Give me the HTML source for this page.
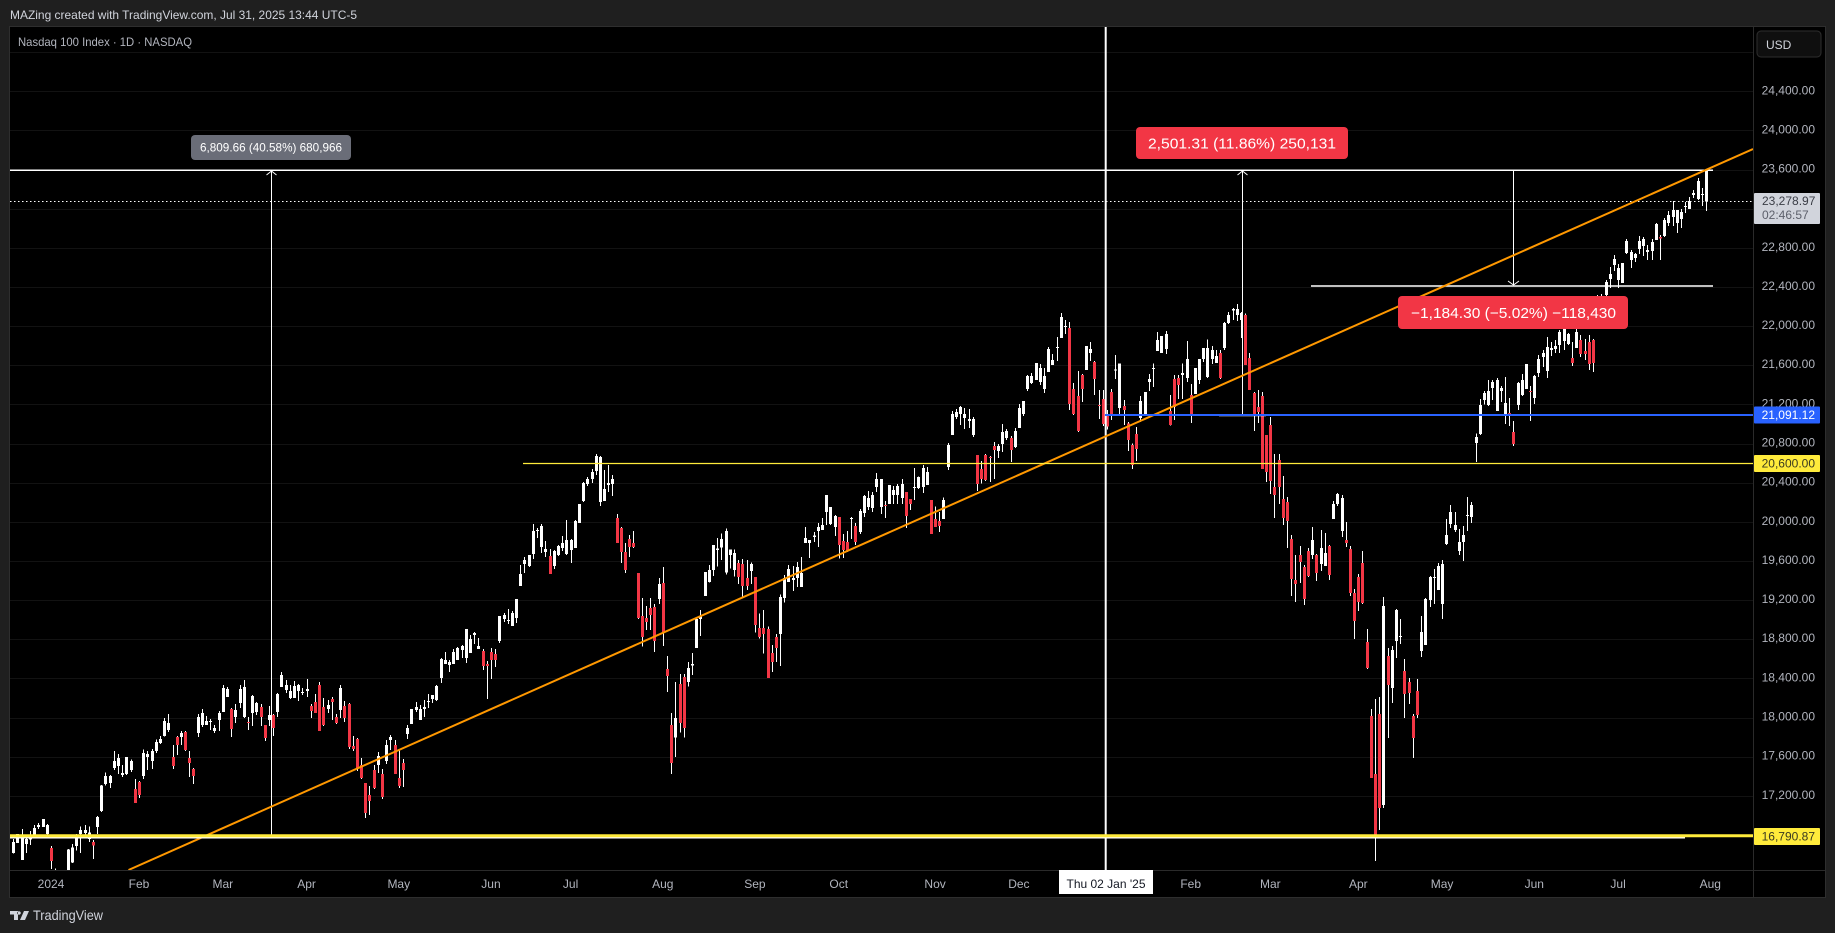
<!DOCTYPE html>
<html lang="en">
<head>
<meta charset="utf-8">
<title>Nasdaq 100 Index chart</title>
<style>
html,body{margin:0;padding:0;background:#1f1f1f;width:1835px;height:933px;overflow:hidden}
svg{display:block}
text{font-family:"Liberation Sans",Arial,sans-serif}
</style>
</head>
<body>
<svg id="chart" width="1835" height="933" viewBox="0 0 1835 933" xmlns="http://www.w3.org/2000/svg">
  <defs><clipPath id="pane-clip"><rect x="10" y="27" width="1743" height="843"/></clipPath></defs>
  <rect x="0" y="0" width="1835" height="933" fill="#1f1f1f"/>
  <text x="10" y="19" font-size="12" fill="#d1d4dc" textLength="347" lengthAdjust="spacingAndGlyphs">MAZing created with TradingView.com, Jul 31, 2025 13:44 UTC-5</text>
  <rect x="9.5" y="26.5" width="1816" height="871" fill="#000" stroke="#2e2e2e"/>
  <g id="grid"></g>
  <line x1="1753.5" y1="27" x2="1753.5" y2="897" stroke="#2a2a2a"/>
  <line x1="10" y1="870.5" x2="1825" y2="870.5" stroke="#2a2a2a"/>
  <text x="18" y="46" font-size="12" fill="#b2b5be" textLength="174" lengthAdjust="spacingAndGlyphs">Nasdaq 100 Index · 1D · NASDAQ</text>
  <g id="price-ticks"></g>
  <g id="time-ticks"></g>
  <g id="candles" clip-path="url(#pane-clip)"></g>

  <g clip-path="url(#pane-clip)">
    <line x1="10" y1="201.5" x2="1753" y2="201.5" stroke="#fff" stroke-width="1" stroke-dasharray="1.5 2.5"/>
    <line x1="10" y1="170.3" x2="1713" y2="170.3" stroke="#fff" stroke-width="1.5"/>
    <line x1="1311" y1="286" x2="1713" y2="286" stroke="#fff" stroke-width="1.5"/>
    <line x1="271.5" y1="171" x2="271.5" y2="836" stroke="#fff" stroke-width="1"/>
    <polyline points="266.5,175 271.5,171 276.5,175" fill="none" stroke="#fff" stroke-width="1"/>
    <line x1="1219" y1="415.5" x2="1266" y2="415.5" stroke="#fff" stroke-width="1.5"/>
    <line x1="1242.5" y1="171" x2="1242.5" y2="415" stroke="#fff" stroke-width="1"/>
    <polyline points="1237.5,175 1242.5,171 1247.5,175" fill="none" stroke="#fff" stroke-width="1"/>
    <line x1="1513.5" y1="171" x2="1513.5" y2="285" stroke="#fff" stroke-width="1"/>
    <polyline points="1508,281 1513.5,285 1519,281" fill="none" stroke="#fff" stroke-width="1"/>
    <line x1="1105.7" y1="27" x2="1105.7" y2="870" stroke="#fff" stroke-width="2"/>
    <line x1="128.5" y1="870" x2="1753" y2="149" stroke="#ff9800" stroke-width="2"/>
    <line x1="523" y1="463.5" x2="1753" y2="463.5" stroke="#ffeb3b" stroke-width="1.3"/>
    <line x1="1105" y1="415" x2="1753" y2="415" stroke="#2962ff" stroke-width="2"/>
    <line x1="10" y1="837.6" x2="1685" y2="837.6" stroke="#fff" stroke-width="1.8"/>
    <line x1="10" y1="835.8" x2="1753" y2="835.8" stroke="#ffeb3b" stroke-width="3"/>
  </g>

  <g>
    <rect x="191" y="135" width="160" height="25" rx="4" fill="#6a6d78"/>
    <text x="200" y="151.5" font-size="12" fill="#fff" textLength="142" lengthAdjust="spacingAndGlyphs">6,809.66 (40.58%) 680,966</text>
  </g>
  <g>
    <rect x="1136" y="127" width="212" height="32" rx="4" fill="#f23645"/>
    <text x="1148" y="148.5" font-size="15" fill="#fff" textLength="188" lengthAdjust="spacingAndGlyphs">2,501.31 (11.86%) 250,131</text>
  </g>
  <g>
    <rect x="1398" y="296" width="230" height="33" rx="4" fill="#f23645"/>
    <text x="1411" y="318" font-size="15" fill="#fff" textLength="205" lengthAdjust="spacingAndGlyphs">−1,184.30 (−5.02%) −118,430</text>
  </g>

  <g>
    <rect x="1757" y="31" width="64" height="26" rx="4" fill="#0f0f0f" stroke="#2e2e2e"/>
    <text x="1766" y="49" font-size="12" fill="#d1d4dc">USD</text>
  </g>
  <g>
    <rect x="1754" y="193" width="66" height="31" rx="1" fill="#d1d4dc"/>
    <text x="1762" y="205" font-size="12" fill="#3a3d46">23,278.97</text>
    <text x="1762" y="219" font-size="12" fill="#5d606b">02:46:57</text>
  </g>
  <g>
    <rect x="1754" y="406.5" width="66" height="17" rx="1" fill="#2962ff"/>
    <text x="1815" y="419" text-anchor="end" font-size="12" fill="#fff">21,091.12</text>
  </g>
  <g>
    <rect x="1754" y="455" width="66" height="17" rx="1" fill="#ffeb3b"/>
    <text x="1815" y="467.5" text-anchor="end" font-size="12" fill="#3a3a20">20,600.00</text>
  </g>
  <g>
    <rect x="1754" y="828" width="66" height="17" rx="1" fill="#ffeb3b"/>
    <text x="1815" y="840.5" text-anchor="end" font-size="12" fill="#3a3a20">16,790.87</text>
  </g>
  <g>
    <rect x="1059" y="870" width="94" height="24" fill="#fff"/>
    <text x="1106" y="888" text-anchor="middle" font-size="12" fill="#131722">Thu 02 Jan '25</text>
  </g>
  <g>
    <path d="M10 911h8v9h-4v-5.5h-4zM19 911.2a1.8 1.8 0 1 0 .01 0zM24 911h5l-4 9h-5z" fill="#d1d4dc"/>
    <text x="33" y="920" font-size="14" fill="#d1d4dc" textLength="70" lengthAdjust="spacingAndGlyphs">TradingView</text>
  </g>
</svg>
<script>
const highs = [
16763,16817,16865,16787,16845,16906,16926,16967,16916,16691,
16463,16380,16400,16661,16712,16817,16892,16906,16892,16753,
16998,17315,17444,17420,17662,17632,17519,17601,17577,17376,
17356,17679,17662,17683,17782,17816,18000,18040,17724,17816,
17867,17867,17662,17489,18040,18092,18020,17989,17928,18071,
18337,18316,18102,18143,18337,18388,18010,18235,18163,18143,
17928,18122,18041,18255,18470,18388,18337,18378,18347,18306,
18398,18143,18245,18368,18204,18184,18214,18041,18337,18174,
18153,17816,17795,17591,17335,17305,17519,17652,17478,17775,
17826,17775,17673,17581,17928,18092,18163,18133,18184,18245,
18235,18337,18613,18674,18593,18705,18725,18746,18909,18848,
18879,18817,18705,18582,18715,18705,19042,19073,19114,19093,
19216,19563,19645,19666,19982,19942,19982,19809,19727,19717,
19768,19860,20023,19829,20023,20187,20412,20463,20545,20698,
20677,20534,20585,20483,20085,19952,19788,19870,19911,19482,
19226,19144,19226,19165,19431,19543,18633,18050,18368,18450,
18450,18572,18664,19018,19104,19492,19564,19768,19840,19887,
19938,19724,19724,19615,19625,19615,19587,19441,19070,19104,
18933,18746,18858,19264,19461,19564,19553,19594,19645,19952,
19819,19901,19993,20044,20279,20156,20075,20054,19880,19911,
20054,19993,20136,20279,20320,20310,20504,20443,20218,20381,
20371,20391,20443,20310,20238,20555,20466,20586,20565,20228,
20160,20105,20255,20810,21137,21158,21189,21168,21158,21076,
20688,20627,20698,20678,20821,20800,21005,20953,20882,20964,
21209,21240,21505,21526,21628,21618,21577,21792,21720,21894,
22139,22068,22047,21424,21546,21516,21802,21843,21649,21352,
21352,21150,21362,21709,21624,21249,21025,20807,20974,21290,
21331,21515,21624,21945,21904,21955,21301,21505,21505,21624,
21853,21413,21577,21669,21781,21870,21801,21761,21761,22047,
22149,22190,22231,22149,22135,21730,21331,21352,21331,20892,
21076,20698,20698,20473,20258,19870,19665,19757,19563,19737,
19952,19676,19921,19890,19768,20217,20299,20279,20003,19757,
19318,19471,19706,18909,18091,18194,18214,19236,18715,18735,
19113,19011,18602,18408,18040,18398,19042,19226,19451,19522,
19584,19614,20033,20176,20105,19931,19962,20258,20207,20909,
21260,21342,21454,21454,21475,21393,21485,21270,21035,21434,
21516,21618,21393,21505,21710,21761,21894,21843,21863,21965,
21976,21935,21843,21976,21914,21873,21914,21873,22323,22333,
22476,22609,22732,22640,22650,22896,22783,22752,22926,22916,
22834,22896,23059,22936,23110,23182,23284,23192,23202,23274,
23325,23396,23519,23417,23594];
const lows = [
16616,16722,16548,16620,16702,16787,16868,16886,16766,16456,
16310,16150,16240,16280,16518,16647,16620,16800,16732,16558,
16814,17039,17311,17284,17468,17427,17397,17417,17448,17131,
17182,17376,17468,17478,17642,17734,17809,17857,17478,17621,
17724,17662,17397,17325,17805,17908,17928,17877,17846,17867,
18061,18214,17805,17948,18102,18000,17877,17918,18030,17918,
17765,17918,17816,18010,18317,18255,18194,18204,18174,18235,
18214,18000,18051,17867,17918,18051,17979,17938,18000,17959,
17683,17662,17458,17376,16978,17008,17274,17438,17172,17530,
17673,17427,17284,17295,17785,17938,18061,17979,18010,18102,
18153,18174,18357,18552,18470,18552,18593,18613,18562,18664,
18756,18705,18490,18194,18398,18521,18766,18981,18960,18940,
18971,19349,19482,19543,19625,19839,19686,19645,19471,19522,
19655,19706,19666,19584,19737,19993,20207,20371,20401,20483,
20166,20218,20310,20269,19788,19584,19482,19645,19737,19011,
18729,18899,18899,18674,19165,18736,18265,17430,17600,17850,
17800,18320,18439,18715,18838,19247,19383,19451,19546,19615,
19465,19529,19444,19369,19233,19308,19369,18872,18814,18661,
18409,18470,18572,18531,19179,19390,19298,19339,19339,19788,
19635,19799,19748,19921,19972,19972,19860,19628,19635,19696,
19829,19768,19880,20054,20126,20105,20310,20085,20044,20187,
20187,20187,20187,19942,20126,20228,20340,20299,20381,19880,
19952,19901,20034,20535,20892,21056,20994,20953,20964,20872,
20320,20398,20422,20412,20443,20657,20718,20841,20616,20759,
20964,21086,21342,21413,21454,21403,21321,21536,21608,21649,
21884,21924,21148,21097,20923,21229,21557,21649,21301,21056,
20984,20950,21045,21464,21106,20994,20728,20544,20626,21025,
21086,21341,21382,21750,21730,21720,20987,21045,21260,21260,
21433,21014,21311,21413,21638,21474,21617,21628,21464,21761,
22026,22067,22057,21883,21607,21352,20933,21014,20544,20411,
20289,20043,20186,19972,19737,19246,19185,19379,19154,19441,
19625,19400,19502,19553,19410,20033,20166,19849,19747,19246,
18807,19093,19165,18500,17386,16538,16855,17079,17795,18153,
18613,18756,17999,18142,17591,17999,18623,18746,19134,19165,
19308,19011,19768,19941,19901,19665,19604,19911,19992,20615,
20892,21206,21189,21250,21138,21230,21005,20984,20780,21148,
21291,21362,21035,21209,21485,21587,21475,21700,21730,21730,
21761,21812,21597,21781,21689,21659,21557,21536,22000,22000,
22272,22395,22568,22395,22446,22742,22599,22660,22742,22722,
22681,22681,22885,22681,22916,23028,23028,22957,23008,23161,
23202,23315,23294,23233,23182];
const opens = [
16620,16725,16548,16712,16759,16800,16886,16886,16814,16671,
16446,16200,16280,16300,16521,16691,16814,16824,16763,16732,
16886,17049,17325,17335,17489,17509,17417,17427,17468,17274,
17345,17407,17601,17560,17662,17744,17816,17877,17601,17805,
17805,17857,17591,17478,17846,17928,17928,17962,17867,17979,
18061,18214,18092,18010,18153,18010,17959,18051,18061,18112,
17928,17979,18030,18061,18317,18286,18204,18204,18276,18255,
18276,18122,18163,18337,18112,18092,18194,18010,18082,18122,
18143,17714,17785,17519,17335,17213,17468,17519,17427,17560,
17775,17724,17386,17540,17836,17938,18082,17979,18092,18163,
18194,18184,18409,18552,18541,18552,18593,18695,18613,18664,
18848,18705,18684,18551,18674,18654,18787,19011,18991,18940,
19022,19349,19574,19553,19676,19911,19747,19696,19655,19553,
19666,19737,19676,19717,19737,19993,20218,20391,20442,20524,
20207,20218,20381,20391,20044,19942,19696,19829,19788,19482,
19042,19022,19124,19134,19216,19380,18501,17930,17800,18347,
18419,18368,18538,18715,19012,19247,19390,19512,19717,19744,
19485,19666,19512,19584,19574,19431,19502,19441,18920,18920,
18909,18664,18828,18858,19226,19390,19410,19431,19339,19788,
19788,19850,19911,19921,20105,19983,19952,20054,19809,19799,
20034,19962,19901,20095,20156,20146,20361,20156,20177,20187,
20279,20279,20248,20310,20238,20351,20351,20361,20381,20228,
20034,20013,20034,20565,20892,21076,21107,21066,21035,20892,
20688,20545,20688,20667,20780,20729,20800,20861,20861,20770,
20964,21107,21362,21424,21454,21434,21362,21536,21608,21781,
21884,21996,21986,21362,21291,21505,21557,21730,21638,21199,
21260,21096,21331,21559,21168,21188,21011,20790,20902,21065,
21086,21433,21566,21750,21730,21771,21137,21464,21474,21505,
21474,21301,21311,21454,21669,21485,21669,21628,21730,21781,
22036,22166,22118,22067,22118,21679,21321,21178,21290,20892,
20994,20360,20636,20238,20207,19829,19410,19665,19543,19706,
19665,19665,19573,19553,19757,20033,20187,19911,19819,19727,
19277,19441,19584,18776,18020,17427,18040,17110,18633,18306,
18786,18827,18480,18367,18020,18275,18684,18746,19205,19430,
19308,19165,19778,19982,19921,19706,19798,20064,20054,20810,
20902,21250,21199,21373,21138,21342,21086,21117,20923,21199,
21301,21362,21342,21270,21526,21689,21546,21761,21771,21812,
21853,21822,21679,21781,21863,21751,21843,21863,22000,22034,
22323,22487,22630,22476,22446,22752,22681,22701,22793,22824,
22763,22773,22885,22916,22926,23059,23120,23059,23100,23223,
23202,23345,23304,23345,23277];
const closes = [
16732,16814,16766,16763,16766,16875,16909,16967,16906,16538,
16344,16300,16380,16654,16678,16780,16855,16855,16831,16695,
16988,17311,17407,17407,17560,17591,17437,17601,17560,17131,
17213,17642,17632,17662,17754,17785,17969,17948,17509,17724,
17846,17673,17540,17407,18010,18051,17969,17969,17897,18051,
18306,18296,17887,18081,18296,18316,17948,18224,18153,18010,
17795,18030,17898,18245,18439,18337,18276,18327,18337,18266,
18296,18071,18051,17867,17928,18133,18163,17949,18306,18000,
17703,17683,17489,17386,17029,17151,17284,17611,17192,17724,
17806,17427,17305,17468,17898,18092,18112,18092,18112,18174,
18235,18327,18603,18593,18572,18674,18715,18736,18909,18807,
18868,18735,18531,18531,18592,18592,19042,19052,19001,19073,
19216,19471,19614,19666,19911,19921,19962,19727,19471,19706,
19758,19788,19819,19819,20013,20187,20401,20442,20514,20677,
20667,20340,20401,20442,19788,19696,19512,19747,19747,19022,
18828,18981,19052,18787,19369,18879,18429,17540,18000,17950,
17900,18511,18552,19012,19042,19492,19512,19768,19734,19829,
19911,19724,19686,19441,19349,19349,19574,18950,18828,18858,
18409,18572,18715,19236,19431,19523,19431,19543,19482,19840,
19819,19867,19952,19972,20279,20156,20064,19768,19717,19707,
20044,19799,20115,20269,20248,20279,20443,20443,20167,20381,
20330,20371,20391,20064,20187,20361,20463,20555,20514,19880,
19952,19962,20228,20790,21107,21127,21178,21107,21055,21055,
20391,20443,20432,20657,20739,20780,20923,20933,20739,20933,
21168,21240,21495,21495,21628,21577,21495,21771,21659,21792,
22098,22006,21209,21107,20933,21362,21802,21771,21465,21189,
21004,20977,21096,21563,21624,21147,20841,20585,20749,21239,
21331,21464,21577,21863,21904,21924,20994,21178,21403,21525,
21669,21086,21577,21669,21781,21781,21761,21699,21474,22036,
22118,22180,22180,22139,21607,21352,21106,21127,20544,20514,
20422,20278,20360,20043,20013,19420,19369,19594,19216,19451,
19819,19481,19737,19686,19461,20187,20289,20248,19788,19277,
18991,19185,19175,18510,17386,16773,17079,19144,18337,18694,
19103,18838,18245,18255,17795,18030,18878,19216,19441,19441,
19553,19573,19870,20105,19972,19798,19870,20074,20176,20872,
21199,21322,21342,21434,21454,21373,21219,21086,20800,21424,
21454,21618,21332,21495,21669,21730,21792,21781,21802,21945,
21976,21925,21628,21945,21720,21720,21618,21628,22272,22306,
22456,22538,22691,22599,22650,22875,22763,22742,22875,22896,
22783,22865,23049,22899,23090,23141,23192,23192,23172,23233,
23284,23366,23488,23355,23594];
const gridPrices = [24800,24400,24000,23600,23200,22800,22400,22000,21600,21200,20800,20400,20000,19600,19200,18800,18400,18000,17600,17200,16800];
const priceLabels = ["24,400.00","24,000.00","23,600.00","23,200.00","22,800.00","22,400.00","22,000.00","21,600.00","21,200.00","20,800.00","20,400.00","20,000.00","19,600.00","19,200.00","18,800.00","18,400.00","18,000.00","17,600.00","17,200.00"];
const labelPrices = [24400,24000,23600,23200,22800,22400,22000,21600,21200,20800,20400,20000,19600,19200,18800,18400,18000,17600,17200];
const timeLabels = ["2024","Feb","Mar","Apr","May","Jun","Jul","Aug","Sep","Oct","Nov","Dec","Feb","Mar","Apr","May","Jun","Jul","Aug"];
const timeIndexes = [9,30,50,70,92,114,133,155,177,197,220,240,281,300,321,341,363,383,405];

const SVG_NS = "http://www.w3.org/2000/svg";
function xScale(i){ return 13.3 + 4.19 * i; }
function yScale(p){ return 522.3 - (p - 20000) * 0.09785; }
function make(tag, attrs){
  const el = document.createElementNS(SVG_NS, tag);
  for (const k in attrs) el.setAttribute(k, attrs[k]);
  return el;
}

const gridLayer = document.getElementById("grid");
gridPrices.forEach(function(p){
  const y = Math.floor(yScale(p)) + 0.5;
  const line = make("line", {x1: 10, x2: 1753, y1: y, y2: y, stroke: "#121212"});
  
  
  gridLayer.appendChild(line);
});

const priceLayer = document.getElementById("price-ticks");
labelPrices.forEach(function(p, k){
  const t = make("text", {x: 1815, y: yScale(p) + 2.5, "text-anchor": "end", "font-size": 12, fill: "#b2b5be"});
  
  
  t.textContent = priceLabels[k];
  priceLayer.appendChild(t);
});

const timeLayer = document.getElementById("time-ticks");
timeLabels.forEach(function(label, k){
  const t = make("text", {x: xScale(timeIndexes[k]), y: 888, "text-anchor": "middle", "font-size": 12, fill: "#b2b5be"});
  
  
  t.textContent = label;
  timeLayer.appendChild(t);
});

const candleLayer = document.getElementById("candles");
closes.forEach(function(c, i){
  const o = opens[i];
  const cx = Math.round(xScale(i));
  const top = yScale(Math.max(o, c));
  const bottom = yScale(Math.min(o, c));
  const g = make("g", {"shape-rendering": "crispEdges"});
  
  
  const wick = make("rect", {x: cx, y: yScale(highs[i]), width: 1, height: Math.max(1, yScale(lows[i]) - yScale(highs[i])), fill: "#ffffff"});
  
  
  const body = make("rect", {x: cx - 1, y: top, width: 3, height: Math.max(1, bottom - top), fill: c < o ? "#f23645" : "#ffffff"});
  
  
  g.appendChild(wick);
  g.appendChild(body);
  candleLayer.appendChild(g);
});
</script>
</body>
</html>
